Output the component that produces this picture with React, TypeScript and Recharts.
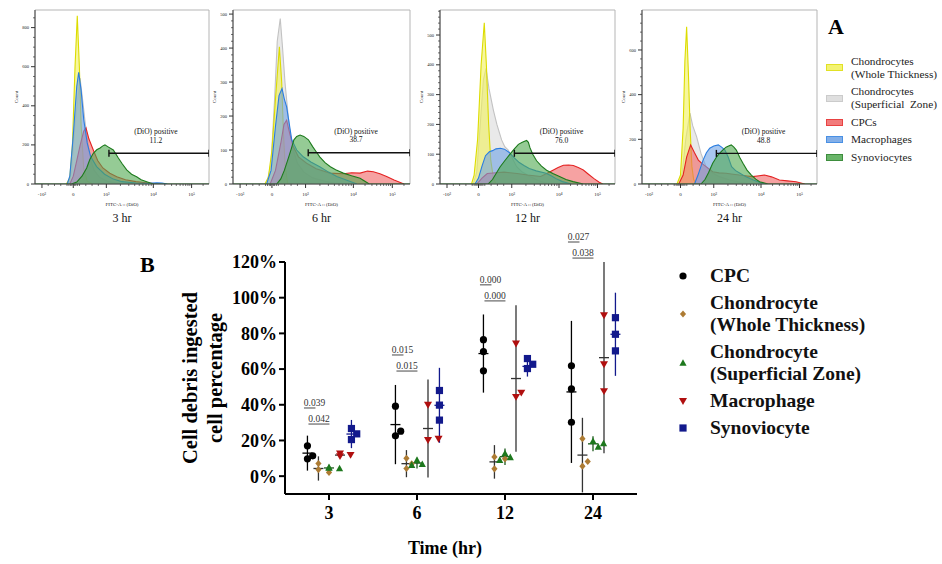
import React from 'react'
import {
  Area,
  ComposedChart,
  ErrorBar,
  Line,
  ReferenceArea,
  ReferenceDot,
  Scatter,
  ScatterChart,
  XAxis,
  YAxis
} from 'recharts'

type Pt = [number, number]

const SERIF = '"Liberation Serif", "Times New Roman", serif'

// ---------- A: DiO histograms (channel on the display scale 0..100, count) ----------
const H3_WT: Pt[] = [[18, 0], [20, 30], [21.5, 200], [23, 600], [24.3, 860], [25.5, 600], [26.5, 300], [28, 80], [30, 15], [33, 0]]
const H3_SZ: Pt[] = [[19, 0], [21, 60], [23, 300], [25.9, 542], [27.5, 420], [29, 300], [30.5, 200], [32, 120], [34, 70], [37, 35], [42, 12], [50, 0]]
const H3_CPC: Pt[] = [[20, 0], [22, 40], [24, 120], [26, 200], [28, 270], [29.3, 287], [31, 230], [33.5, 174], [36, 120], [39, 82], [43, 55], [47, 37], [52, 22], [58, 12], [65, 5], [72, 0]]
const H3_MAC: Pt[] = [[18.5, 0], [20, 40], [22, 250], [24, 500], [25.1, 571], [26.5, 480], [28, 330], [30, 210], [32, 140], [35.4, 89], [40, 50], [45, 25], [50, 12], [58, 5], [65, 3], [70, 6], [73, 5], [76, 0]]
const H3_SYN: Pt[] = [[0, 0], [21, 0], [24, 10], [27, 40], [29.7, 82], [31.5, 125], [33.5, 157], [35.5, 175], [37.4, 184], [39, 195], [40.2, 200], [42, 190], [45, 174], [47.9, 133], [50, 105], [52.7, 72], [55.5, 50], [58.4, 37], [61, 22], [64.2, 12], [68, 0], [100, 0]]

const H6_WT: Pt[] = [[18, 0], [20, 20], [22, 100], [24, 250], [26.2, 404], [27.5, 300], [28.5, 150], [29.5, 50], [31, 0]]
const H6_SZ: Pt[] = [[19, 0], [21.5, 60], [23.5, 250], [25, 420], [26.7, 487], [28, 400], [29.4, 297], [31, 210], [32.2, 150], [34, 100], [36.5, 60], [40, 35], [45, 18], [52, 8], [60, 0]]
const H6_CPC: Pt[] = [[21, 0], [24, 40], [27, 120], [28.8, 175], [30.3, 188], [32, 150], [34, 110], [37, 80], [41.6, 61], [47, 45], [54.8, 32], [62.3, 30], [67, 33], [71.8, 32], [76, 38], [79.3, 36], [83, 30], [86.8, 22], [91, 12], [96.6, 0]]
const H6_MAC: Pt[] = [[19, 0], [21.5, 40], [24, 170], [26, 260], [27.7, 281], [29, 250], [30.3, 227], [31.7, 180], [33.2, 130], [36, 100], [39.7, 80], [44, 65], [49, 51], [54, 35], [58.6, 22], [64, 12], [70, 0]]
const H6_SYN: Pt[] = [[0, 0], [24.7, 0], [27, 15], [29, 40], [31.5, 80], [33, 105], [34.4, 130], [36, 140], [37.9, 144], [40, 140], [42.6, 130], [45, 110], [47, 95], [49, 80], [52, 63], [55, 51], [58, 42], [62.3, 32], [67, 24], [71.8, 17], [74.5, 8], [77, 0], [100, 0]]

const H12_WT: Pt[] = [[18, 0], [19.5, 30], [21.5, 150], [23.5, 400], [25.3, 541], [26.5, 400], [27.8, 200], [29, 80], [30.5, 20], [32, 0]]
const H12_SZ: Pt[] = [[19, 0], [21, 40], [23, 200], [24.8, 350], [26.3, 388], [28, 320], [30.5, 248], [32.5, 200], [35.2, 148], [37, 125], [39, 114], [41, 90], [43.8, 58], [47, 40], [51.4, 25], [56, 12], [62, 0]]
const H12_CPC: Pt[] = [[21, 0], [24, 20], [27, 35], [32, 38], [36.6, 40], [40, 38], [44, 35], [50, 30], [57.5, 25], [61, 35], [64.8, 47], [67.5, 55], [70.5, 63], [73.5, 64], [76.2, 62], [79, 55], [81.9, 47], [85, 32], [88, 18], [91, 6], [93, 0]]
const H12_MAC: Pt[] = [[20, 0], [22, 20], [24, 60], [26, 95], [28.2, 108], [30, 112], [32, 118], [34.5, 120], [36.8, 117], [39.6, 106], [42, 90], [45.3, 72], [48, 62], [51, 52], [55, 44], [60.6, 36], [63.5, 28], [66.3, 18], [70, 8], [75, 0]]
const H12_SYN: Pt[] = [[0, 0], [27.6, 0], [30, 15], [34.3, 57], [37, 78], [40, 100], [42.5, 118], [44.8, 133], [47, 140], [49.5, 146], [50.5, 140], [51.4, 122], [53, 100], [55.2, 78], [58, 60], [60.9, 46], [64.5, 35], [68.6, 24], [72, 15], [76, 8], [81.9, 0], [100, 0]]

const H24_WT: Pt[] = [[20, 0], [22, 40], [23.5, 250], [24.5, 550], [25.5, 704], [26.5, 500], [27.5, 250], [28.5, 80], [29.5, 20], [31, 0]]
const H24_SZ: Pt[] = [[21, 0], [23, 50], [25, 200], [27.4, 317], [29, 260], [31.2, 212], [33.7, 137], [36.6, 78], [40, 50], [44.2, 33], [50, 18], [56, 8], [62, 0]]
const H24_CPC: Pt[] = [[21, 0], [23.5, 40], [25.5, 120], [27.8, 175], [30, 140], [32.2, 107], [34.5, 90], [36.6, 78], [40.4, 55], [44, 50], [48, 48], [52, 44], [55.6, 40], [60, 36], [63.2, 33], [67, 37], [70, 40], [74, 32], [78.5, 18], [83, 14], [88, 10], [93, 0]]
const H24_MAC: Pt[] = [[30, 0], [32, 40], [34.9, 107], [36.8, 140], [38.7, 160], [41, 170], [43.6, 175], [45.5, 165], [47.4, 152], [49.3, 120], [51.2, 78], [53.5, 60], [56, 48], [59.5, 32], [63.6, 18], [67, 8], [70, 0]]
const H24_SYN: Pt[] = [[0, 0], [33.7, 0], [36, 20], [38, 50], [40.4, 93], [42.5, 120], [44, 135], [46.1, 152], [48, 165], [49.5, 170], [51, 175], [52.5, 165], [53.9, 152], [55.8, 120], [57.7, 93], [60, 62], [62.5, 40], [65, 22], [67.2, 10], [72, 0], [100, 0]]

const HIST_TIMES = ['3 hr', '6 hr', '12 hr', '24 hr']
const HIST_CELLS = ['Chondrocytes\n(Whole Thickness)', 'Chondrocytes\n(Superficial  Zone)', 'CPCs', 'Macrophages', 'Synoviocytes']
const DIO_POSITIVE = ['11.2', '38.7', '76.0', '48.8']
const GATE_COUNT = [157, 92, 103, 137]
const GATE_FROM = 42.5
const FITC_TICKS = [4, 22, 41, 68, 90]
const FITC_TICK_LABELS = ['-10³', '0', '10³', '10⁴', '10⁵']
const FITC_MINOR = [7.6, 11.2, 14.8, 18.4, 19.5, 20.5, 21.2, 22.8, 23.5, 24.5, 25.6, 29.2, 32.8, 36.4, 49.1, 53.9, 57.3, 59.9, 62, 63.8, 65.4, 66.8, 74.6, 78.5, 81.2, 83.4, 85.1, 86.6, 87.9, 89, 96.6]

// order per panel: WT, SZ, CPC, MAC, SYN
const HIST_SETS = [
  [H3_WT, H3_SZ, H3_CPC, H3_MAC, H3_SYN],
  [H6_WT, H6_SZ, H6_CPC, H6_MAC, H6_SYN],
  [H12_WT, H12_SZ, H12_CPC, H12_MAC, H12_SYN],
  [H24_WT, H24_SZ, H24_CPC, H24_MAC, H24_SYN]
]

// ---------- B: % of cells with ingested debris ----------
const TIMES = ['3', '6', '12', '24']
const CPC_PCT = [[17, 9.7, 11.4], [39.2, 22.6, 25.2], [76.5, 69.8, 59], [61.8, 48.9, 30.2]]
const CPC_MEAN = [12.9, 28.9, 68.7, 47.2]
const CPC_SD = [9.8, 22.2, 21.9, 39.8]
const WT_PCT = [[7.1, 3.7, 2.1], [10, 4.3, 6.9], [4.1, 10.8, 9.7], [21, 5.6, 8.2]]
const WT_MEAN = [4.3, 7.0, 8.0, 11.8]
const WT_SD = [6.8, 7.6, 9.4, 20.9]
const SZ_PCT = [[4.9, 4.3, 4.6], [9, 6.7, 6.2], [12.7, 10.5, 9], [19.6, 16.4, 18.3]]
const SZ_MEAN = [4.6, 7.3, 10.9, 18.1]
const SZ_SD = [1.0, 3.0, 4.6, 4.2]
const MAC_PCT = [[12.7, 11.9, 11.2], [40, 20.2, 20.9], [74.3, 44.4, 46.8], [90.1, 62.7, 47.6]]
const MAC_MEAN = [11.8, 26.7, 54.7, 66.4]
const MAC_SD = [1.2, 27.5, 41, 53.6]
const SYN_PCT = [[20.5, 26.7, 23.7], [48, 39.8, 31.4], [65.9, 62.7, 60.3], [88.8, 79.5, 70.2]]
const SYN_MEAN = [23.6, 39.7, 61.5, 79.5]
const SYN_SD = [7.9, 21, 5.7, 23.3]
const CELL_NAMES = ['CPC', 'Chondrocyte\n(Whole Thickness)', 'Chondrocyte\n(Superficial Zone)', 'Macrophage', 'Synoviocyte']
const P_UPPER = ['0.039', '0.015', '0.000', '0.027']
const P_LOWER = ['0.042', '0.015', '0.000', '0.038']
const P_LEVEL = [41, 70.7, 110, 134]

// ---------- styling ----------
const HIST_STYLE = [
  { fill: '#f2f25a', stroke: '#dcdc00' },
  { fill: '#dadada', stroke: '#c2c2c2' },
  { fill: '#f06464', stroke: '#e42222' },
  { fill: '#6ea2e4', stroke: '#2a7de0' },
  { fill: '#4fa94f', stroke: '#1c7a1c' }
]
const DRAW_ORDER = [1, 0, 2, 3, 4]

const PANEL_BOX = [
  { left: 35, width: 174, ymax: 890, major: 200, minor: 50 },
  { left: 233, width: 177, ymax: 512, major: 100, minor: 20 },
  { left: 440, width: 175, ymax: 584, major: 100, minor: 20 },
  { left: 642, width: 175, ymax: 779, major: 200, minor: 40 }
]

type Marker = 'circle' | 'diamond' | 'triangle' | 'down' | 'square'
const GROUPS = [
  { pct: CPC_PCT, mean: CPC_MEAN, sd: CPC_SD, color: '#000000', err: '#000000', marker: 'circle' as Marker },
  { pct: WT_PCT, mean: WT_MEAN, sd: WT_SD, color: '#ad7b33', err: '#333333', marker: 'diamond' as Marker },
  { pct: SZ_PCT, mean: SZ_MEAN, sd: SZ_SD, color: '#1d781d', err: '#1d5a1d', marker: 'triangle' as Marker },
  { pct: MAC_PCT, mean: MAC_MEAN, sd: MAC_SD, color: '#b00f0f', err: '#333333', marker: 'down' as Marker },
  { pct: SYN_PCT, mean: SYN_MEAN, sd: SYN_SD, color: '#12198c', err: '#12198c', marker: 'square' as Marker }
]
const GROUP_OFFSET = [-0.245, -0.12, 0, 0.125, 0.255]

function drawMarker(m: Marker, cx: number, cy: number, color: string) {
  switch (m) {
    case 'circle':
      return <circle cx={cx} cy={cy} r={3.6} fill={color} />
    case 'diamond':
      return <polygon points={`${cx},${cy - 3.6} ${cx + 3.1},${cy} ${cx},${cy + 3.6} ${cx - 3.1},${cy}`} fill={color} />
    case 'triangle':
      return <polygon points={`${cx},${cy - 3.8} ${cx + 3.6},${cy + 2.8} ${cx - 3.6},${cy + 2.8}`} fill={color} />
    case 'down':
      return <polygon points={`${cx - 4},${cy - 3} ${cx + 4},${cy - 3} ${cx},${cy + 3.9}`} fill={color} />
    default:
      return <rect x={cx - 3.6} y={cy - 3.6} width={7.2} height={7.2} fill={color} />
  }
}

// Prism-like scatter: a replicate that would sit on an earlier one is pushed aside
function spread(vals: number[]) {
  const placed: [number, number][] = []
  return vals.map((v) => {
    const off = [0, 0.06, -0.06, 0.12].find((o) =>
      placed.every(([po, pv]) => Math.hypot((o - po) * 88, (v - pv) * 1.78) >= 6)
    ) ?? 0
    placed.push([off, v])
    return off
  })
}

function FitcTick({ x, y, payload }: any) {
  const k = FITC_TICKS.indexOf(payload.value)
  const major = k >= 0
  return (
    <g>
      <line x1={x} x2={x} y1={y} y2={y + (major ? 4 : 2)} stroke="#333" strokeWidth={major ? 1 : 0.7} />
      {major && (
        <text x={x} y={y + 12} textAnchor="middle" fontSize={5} fontFamily={SERIF} fill="#222">
          {FITC_TICK_LABELS[k]}
        </text>
      )}
    </g>
  )
}

function CountTick({ x, y, payload, major }: any) {
  const isMajor = payload.value % major === 0
  return (
    <g>
      <line x1={x - (isMajor ? 4 : 2)} x2={x} y1={y} y2={y} stroke="#333" strokeWidth={isMajor ? 1 : 0.7} />
      {isMajor && (
        <text x={x - 6} y={y} dy="0.35em" textAnchor="end" fontSize={4.5} fontFamily={SERIF} fill="#222">
          {payload.value}
        </text>
      )}
    </g>
  )
}

function Histogram({ i }: { i: number }) {
  const box = PANEL_BOX[i]
  const yTicks: number[] = []
  for (let v = 0; v <= box.ymax; v += box.minor) yTicks.push(v)
  const gate = [{ ch: GATE_FROM, n: GATE_COUNT[i] }, { ch: 100, n: GATE_COUNT[i] }]
  return (
    <div style={{ position: 'absolute', left: box.left - 35, top: 0 }}>
      <ComposedChart width={box.width + 40} height={226} margin={{ top: 10, right: 5, bottom: 0, left: 0 }}>
        <ReferenceArea x1={0} x2={100} y1={0} y2={box.ymax} fill="none" stroke="#b5b5b5" ifOverflow="visible" />
        <XAxis
          type="number"
          dataKey="ch"
          domain={[0, 100]}
          allowDataOverflow
          ticks={[...FITC_TICKS, ...FITC_MINOR]}
          interval={0}
          tickSize={0}
          tickMargin={0}
          tickLine={false}
          tick={<FitcTick />}
          axisLine={{ stroke: '#444' }}
          height={42}
          label={{ value: 'FITC-A :: (DiO)', position: 'insideTop', offset: 18, style: { fontSize: 5, fontFamily: SERIF, fill: '#222' } }}
        />
        <YAxis
          type="number"
          domain={[0, box.ymax]}
          allowDataOverflow
          ticks={yTicks}
          interval={0}
          tickSize={0}
          tickMargin={0}
          tickLine={false}
          tick={<CountTick major={box.major} />}
          axisLine={{ stroke: '#444' }}
          width={35}
          label={{ value: 'Count', angle: -90, position: 'insideLeft', offset: 16, style: { textAnchor: 'middle', fontSize: 5, fontFamily: SERIF, fill: '#222' } }}
        />
        {DRAW_ORDER.map((k) => (
          <Area
            key={k}
            data={HIST_SETS[i][k].map(([ch, n]) => ({ ch, n }))}
            dataKey="n"
            type="linear"
            fill={HIST_STYLE[k].fill}
            fillOpacity={0.6}
            stroke={HIST_STYLE[k].stroke}
            strokeWidth={1.1}
            dot={false}
            activeDot={false}
            isAnimationActive={false}
          />
        ))}
        <Line
          data={gate}
          dataKey="n"
          stroke="#111"
          strokeWidth={1.4}
          dot={(p: any) => <line key={p.index} x1={p.cx} x2={p.cx} y1={p.cy - 3.5} y2={p.cy + 3.5} stroke="#111" strokeWidth={1.4} />}
          activeDot={false}
          isAnimationActive={false}
        />
        <ReferenceDot
          x={69.5}
          y={GATE_COUNT[i]}
          r={0}
          ifOverflow="visible"
          shape={(p: any) => (
            <g fontFamily={SERIF} fontSize={7.5} fill="#111" textAnchor="middle">
              <text x={p.cx} y={p.cy - 19}>(DiO) positive</text>
              <text x={p.cx} y={p.cy - 10.5}>{DIO_POSITIVE[i]}</text>
            </g>
          )}
        />
      </ComposedChart>
      <div style={{ position: 'absolute', left: 35, width: box.width, top: 211, textAlign: 'center', font: `12px ${SERIF}`, lineHeight: '14px', color: '#111' }}>
        {HIST_TIMES[i]}
      </div>
    </div>
  )
}

function PValue({ cx, cy, text, full }: any) {
  return (
    <g>
      <text x={cx} y={cy} dy="0.35em" textAnchor="middle" fontSize={9.5} fontFamily={SERIF} fill="#333">{text}</text>
      <line x1={cx - 10.5} x2={full ? cx + 10.5 : cx + 1} y1={cy + 5} y2={cy + 5} stroke="#333" strokeWidth={0.9} />
    </g>
  )
}

function DebrisChart() {
  const yTicks = [0, 0.2, 0.4, 0.6, 0.8, 1, 1.2]
  return (
    <div style={{ position: 'absolute', left: 160, top: 222 }}>
      <ScatterChart width={500} height={342} margin={{ top: 40, right: 23, bottom: 0, left: 0 }}>
        <XAxis
          type="number"
          dataKey="x"
          domain={[0, 4]}
          allowDataOverflow
          ticks={[0.5, 1.5, 2.5, 3.5]}
          interval={0}
          tickFormatter={(v: number) => TIMES[Math.floor(v)]}
          axisLine={{ stroke: '#000', strokeWidth: 2 }}
          tickLine={{ stroke: '#000', strokeWidth: 2 }}
          tickSize={6}
          tickMargin={6}
          tick={{ fontSize: 18, fontWeight: 'bold', fontFamily: SERIF, fill: '#000' }}
          height={70}
          label={{
            content: ({ viewBox }: any) => (
              <text x={viewBox.x + viewBox.width / 2 - 16} y={viewBox.y + 54} dy="0.35em" textAnchor="middle" fontSize={18} fontWeight="bold" fontFamily={SERIF} fill="#000">
                Time (hr)
              </text>
            )
          }}
        />
        <YAxis
          type="number"
          dataKey="y"
          domain={[-0.1, 1.2]}
          allowDataOverflow
          ticks={yTicks}
          interval={0}
          tickFormatter={(v: number) => `${Math.round(v * 100)}%`}
          axisLine={{ stroke: '#000', strokeWidth: 2 }}
          tickLine={{ stroke: '#000', strokeWidth: 2 }}
          tickSize={6}
          tickMargin={2}
          tick={{ fontSize: 18, fontWeight: 'bold', fontFamily: SERIF, fill: '#000' }}
          width={125}
          label={{
            content: ({ viewBox }: any) => {
              const cy = viewBox.y + viewBox.height / 2
              return (
                <g fontFamily={SERIF} fontWeight="bold" fontSize={20.5} fill="#000" textAnchor="middle">
                  <text transform={`translate(${viewBox.x + 30},${cy}) rotate(-90)`} dy="0.35em">Cell debris ingested</text>
                  <text transform={`translate(${viewBox.x + 55},${cy}) rotate(-90)`} dy="0.35em">cell percentage</text>
                </g>
              )
            }
          }}
        />
        {GROUPS.map((g, s) => (
          <Scatter
            key={`m${s}`}
            data={TIMES.map((_, t) => ({ x: t + 0.5 + GROUP_OFFSET[s], y: g.mean[t] / 100, err: g.sd[t] / 100 }))}
            shape={(p: any) => <line x1={p.cx - 5} x2={p.cx + 5} y1={p.cy} y2={p.cy} stroke={g.err} strokeWidth={1.3} />}
            isAnimationActive={false}
          >
            <ErrorBar dataKey="err" direction="y" width={0} stroke={g.err} strokeWidth={1.3} />
          </Scatter>
        ))}
        {GROUPS.map((g, s) => (
          <Scatter
            key={`p${s}`}
            data={g.pct.flatMap((vals, t) => {
              const offs = spread(vals)
              return vals.map((v, j) => ({ x: t + 0.5 + GROUP_OFFSET[s] + offs[j], y: v / 100 }))
            })}
            shape={(p: any) => drawMarker(g.marker, p.cx, p.cy, g.color)}
            isAnimationActive={false}
          />
        ))}
        {TIMES.map((_, t) => (
          <ReferenceDot
            key={`u${t}`}
            x={t + 0.5 - 0.165}
            y={P_LEVEL[t] / 100}
            r={0}
            ifOverflow="visible"
            shape={(p: any) => <PValue cx={p.cx} cy={p.cy} text={P_UPPER[t]} full={false} />}
          />
        ))}
        {TIMES.map((_, t) => (
          <ReferenceDot
            key={`l${t}`}
            x={t + 0.5 - 0.114}
            y={(P_LEVEL[t] - 9) / 100}
            r={0}
            ifOverflow="visible"
            shape={(p: any) => <PValue cx={p.cx} cy={p.cy} text={P_LOWER[t]} full />}
          />
        ))}
      </ScatterChart>
    </div>
  )
}

function LegendA() {
  return (
    <div style={{ position: 'absolute', left: 826, top: 54.5, display: 'flex', flexDirection: 'column', gap: 4.5, font: `11.3px ${SERIF}`, color: '#222' }}>
      {HIST_CELLS.map((name, k) => (
        <div key={k} style={{ display: 'flex', alignItems: 'center', lineHeight: '13px' }}>
          <span style={{ width: 15, height: 5, border: `1.2px solid ${HIST_STYLE[k].stroke}`, background: HIST_STYLE[k].fill, opacity: 0.85, marginRight: 8, flexShrink: 0 }} />
          <span style={{ whiteSpace: 'pre' }}>{name}</span>
        </div>
      ))}
    </div>
  )
}

function LegendB() {
  return (
    <div style={{ position: 'absolute', left: 677, top: 265, display: 'flex', flexDirection: 'column', gap: 5, font: `bold 19.5px ${SERIF}`, color: '#111' }}>
      {CELL_NAMES.map((name, k) => (
        <div key={k} style={{ display: 'flex', alignItems: 'center', lineHeight: '22px' }}>
          <svg width={12} height={12} style={{ marginRight: 21, flexShrink: 0 }}>
            {drawMarker(GROUPS[k].marker, 6, 6, GROUPS[k].color)}
          </svg>
          <span style={{ whiteSpace: 'pre' }}>{name}</span>
        </div>
      ))}
    </div>
  )
}

export default function App() {
  return (
    <div style={{ position: 'absolute', left: 0, top: 0, width: 942, height: 564, background: '#fff', overflow: 'hidden' }}>
      {HIST_TIMES.map((_, i) => (
        <Histogram key={i} i={i} />
      ))}
      <div style={{ position: 'absolute', left: 828, top: 14, font: `bold 22px ${SERIF}` }}>A</div>
      <LegendA />
      <div style={{ position: 'absolute', left: 140, top: 252, font: `bold 22px ${SERIF}` }}>B</div>
      <DebrisChart />
      <LegendB />
    </div>
  )
}
